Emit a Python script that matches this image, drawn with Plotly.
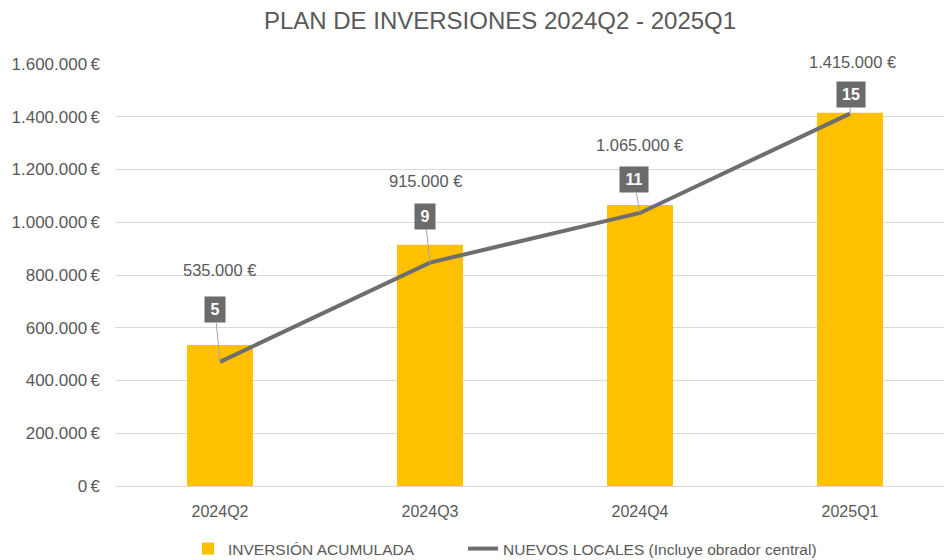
import plotly.graph_objects as go

categories = ["2024Q2", "2024Q3", "2024Q4", "2025Q1"]
inversion = [535000, 915000, 1065000, 1415000]
locales = [5, 9, 11, 15]
tick_vals = [0, 200000, 400000, 600000, 800000, 1000000, 1200000, 1400000, 1600000]
tick_text = ["0\u2009€", "200.000\u2009€", "400.000\u2009€", "600.000\u2009€", "800.000\u2009€",
             "1.000.000\u2009€", "1.200.000\u2009€", "1.400.000\u2009€", "1.600.000\u2009€"]
bar_labels = ["535.000 €", "915.000 €", "1.065.000 €", "1.415.000 €"]

# label placement styling (pixel offsets)
bar_label_yshift = [75, 64, 60, 51]
bar_label_xshift = [-1, -5, -1, 2]
line_label_ax = [-5, -5, -6, 1]
line_label_ay = [-52, -46, -33, -19]

FONT = "Liberation Sans, Arial, sans-serif"
TXT = "#595959"
GOLD = "#FFC000"
GRAY = "#6E6E6E"

fig = go.Figure()
fig.add_trace(go.Bar(
    x=categories, y=inversion, name="INVERSIÓN ACUMULADA",
    marker=dict(color=GOLD, line=dict(width=0)), width=0.314,
    hoverinfo="x+y", legend="legend",
))
fig.add_trace(go.Scatter(
    x=categories, y=locales, name="NUEVOS LOCALES (Incluye obrador central)",
    yaxis="y2", mode="lines", line=dict(color=GRAY, width=4), legend="legend2",
))

annotations = []
for i, c in enumerate(categories):
    annotations.append(dict(
        x=c, y=inversion[i], xref="x", yref="y", text=bar_labels[i],
        showarrow=False, yshift=bar_label_yshift[i], xshift=bar_label_xshift[i],
        font=dict(family=FONT, size=16.5, color=TXT),
    ))
    t = str(locales[i])
    annotations.append(dict(
        x=c, y=locales[i], xref="x", yref="y2", text="<b>%s</b>" % t,
        showarrow=True, ax=line_label_ax[i], ay=line_label_ay[i],
        arrowhead=0, arrowwidth=1, arrowcolor="#A6A6A6", standoff=0,
        bgcolor="#6B6B6B", borderpad=0, width=12 + 8 * len(t), height=25,
        font=dict(family=FONT, size=16, color="white"),
    ))

legend_style = dict(orientation="h", xref="container", yref="container", xanchor="left",
                    y=1 - 549 / 560, yanchor="middle",
                    font=dict(family=FONT, size=15.5, color=TXT), bgcolor="rgba(0,0,0,0)")

fig.update_layout(
    width=944, height=560,
    margin=dict(l=115, r=0, t=64, b=74),
    paper_bgcolor="white", plot_bgcolor="white",
    title=dict(text="PLAN DE INVERSIONES 2024Q2 - 2025Q1", xref="container", x=500 / 944,
               xanchor="center", yref="container", y=1 - 21 / 560, yanchor="middle",
               font=dict(family=FONT, size=24, color=TXT)),
    xaxis=dict(type="category", range=[-0.5, 3.4476], showgrid=False, showline=False,
               ticks="", tickfont=dict(family=FONT, size=16, color=TXT), ticklabelstandoff=14),
    yaxis=dict(range=[0, 1600000], tickvals=tick_vals, ticktext=tick_text,
               showgrid=True, gridcolor="#D9D9D9", gridwidth=1, zeroline=True,
               zerolinecolor="#D9D9D9", zerolinewidth=1, showline=False, ticks="",
               tickfont=dict(family=FONT, size=17, color=TXT), ticklabelstandoff=14),
    yaxis2=dict(range=[0, 17], overlaying="y", side="right", visible=False, showgrid=False),
    legend=dict(x=188 / 944, **legend_style),
    legend2=dict(x=463 / 944, **legend_style),
    annotations=annotations,
    showlegend=True,
)

fig.write_html("out.html")
